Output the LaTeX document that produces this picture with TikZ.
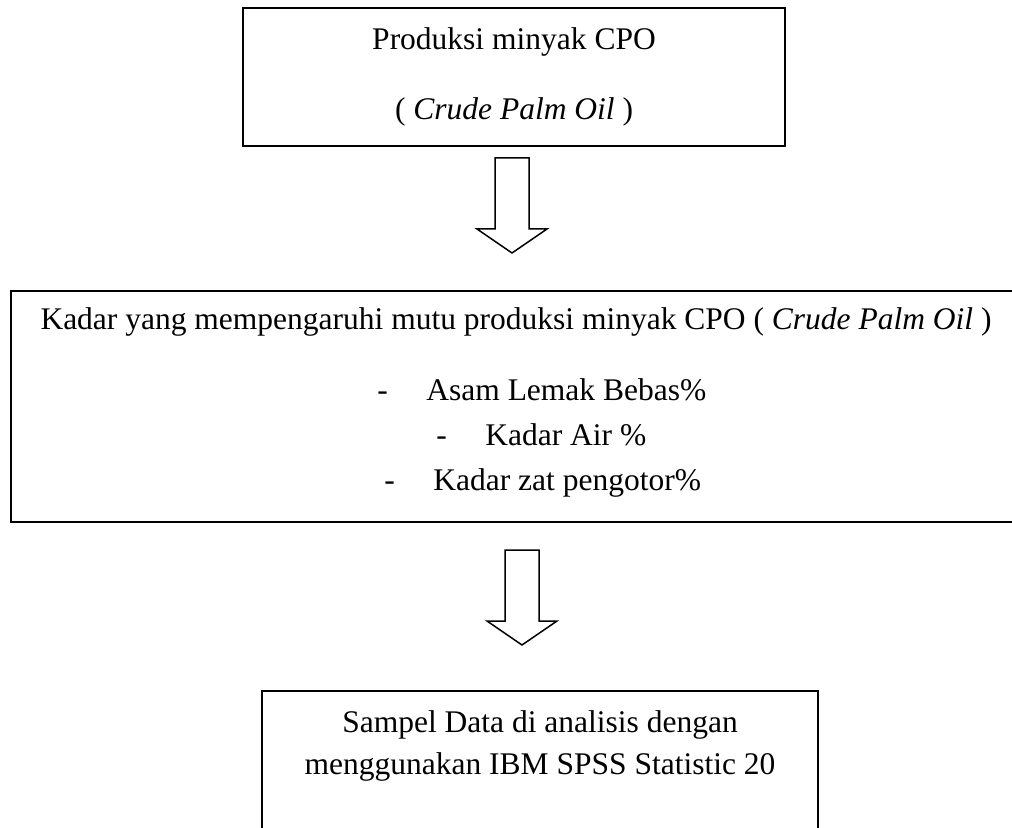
\documentclass[tikz,border=0pt]{standalone}
\usepackage{fontspec}
\setmainfont{Liberation Serif}
\tikzset{
  box/.style={draw, line width=1pt, rectangle, inner sep=0pt},
  txt/.style={font=\fontsize{15.75}{18}\selectfont, inner sep=0pt, anchor=base},
  itemtxt/.style={txt, anchor=base west},
  arrowline/.style={draw, line width=0.75pt, line join=miter},
  blockarrow/.pic={\path[arrowline] (-17,0) -- (17,0) -- (17,71) -- (35,71) -- (0,95) -- (-35,71) -- (-17,71) -- cycle;}
}
\newcommand{\itemdash}{\makebox[24.5pt][l]{-}}
\begin{document}
\begin{tikzpicture}[x=0.5pt,y=-0.5pt]
\useasboundingbox (0,0) rectangle (1012,828);
% boxes
\node[box, minimum width=271pt, minimum height=69pt] (b1) at (514,77) {};
\node[box, minimum width=505pt, minimum height=115.5pt] (b2) at (516,406.5) {};
\node[box, minimum width=278pt, minimum height=104.5pt] (b3) at (540,795.5) {};
% texts
\node[txt] (t1a) at (514,50) {Produksi minyak CPO};
\node[txt] (t1b) at (514,120) {( \textit{Crude Palm Oil} )};
\node[txt] (t2a) at (516,330) {Kadar yang mempengaruhi mutu produksi minyak CPO ( \textit{Crude Palm Oil} )};
\node[itemtxt] (t2b) at (377,401) {\itemdash Asam Lemak Bebas\%};
\node[itemtxt] (t2c) at (436,446) {\itemdash Kadar Air \%};
\node[itemtxt] (t2d) at (384,490) {\itemdash Kadar zat pengotor\%};
\node[txt] (t3a) at (540,732) {Sampel Data di analisis dengan};
\node[txt] (t3b) at (540,774) {menggunakan IBM SPSS Statistic 20};
% block arrows
\pic at (512,158) {blockarrow};
\pic at (522,550) {blockarrow};
\end{tikzpicture}
\end{document}
